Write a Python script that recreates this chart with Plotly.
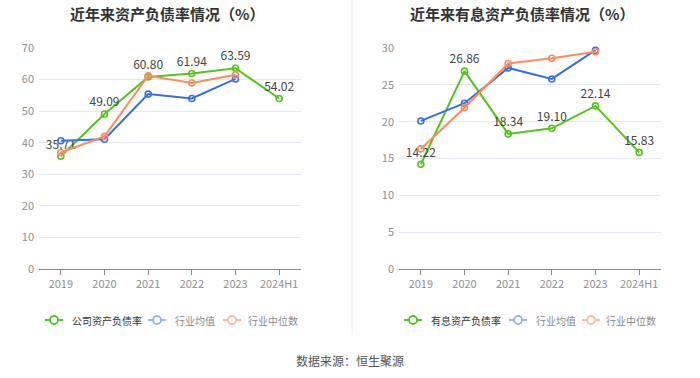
import plotly.graph_objects as go

years = ["2019", "2020", "2021", "2022", "2023", "2024H1"]
ind_years = ["2019", "2020", "2021", "2022", "2023"]

# Left chart: 资产负债率
company_debt = [35.71, 49.09, 60.80, 61.94, 63.59, 54.02]
industry_avg_debt = [40.6, 41.1, 55.4, 54.0, 60.2]
industry_med_debt = [36.9, 42.0, 61.2, 58.9, 61.5]

# Right chart: 有息资产负债率
company_int = [14.22, 26.86, 18.34, 19.10, 22.14, 15.83]
industry_avg_int = [20.1, 22.5, 27.3, 25.8, 29.7]
industry_med_int = [16.3, 21.9, 27.9, 28.6, 29.5]

left_title = "近年来资产负债率情况（%）"
right_title = "近年来有息资产负债率情况（%）"
left_legend = ["公司资产负债率", "行业均值", "行业中位数"]
right_legend = ["有息资产负债率", "行业均值", "行业中位数"]
source_text = "数据来源：恒生聚源"

GREEN = "#52c41a"
BLUE = "#3370e8"
ORANGE = "#ff8a5b"
FADED = ["#52c41a", "#94b4f2", "#ffbba0"]
LEG_TEXT = ["#333333", "#8a8a8a", "#8a8a8a"]
FONT = "Noto Sans CJK SC"
W, H = 700, 378

fig = go.Figure()


def add_panel(xa, ya, comp, avg, med, comp_name):
    fig.add_trace(go.Scatter(
        x=years, y=comp, xaxis=xa, yaxis=ya, showlegend=False,
        name=comp_name, mode="lines+markers+text",
        line=dict(color=GREEN, width=2),
        marker=dict(symbol="circle-open", size=6, color=GREEN, line=dict(width=1.6)),
        text=[f"{v:.2f}" for v in comp], textposition="top center",
        textfont=dict(family=FONT, size=12, color="#444"),
        cliponaxis=False, hoverinfo="skip",
    ))
    for vals, col in ((avg, BLUE), (med, ORANGE)):
        fig.add_trace(go.Scatter(
            x=ind_years, y=vals, xaxis=xa, yaxis=ya, showlegend=False,
            mode="lines+markers",
            line=dict(color=col, width=2),
            marker=dict(symbol="circle-open", size=6, color=col, line=dict(width=1.6)),
            cliponaxis=False, hoverinfo="skip",
        ))


add_panel("x", "y", company_debt, industry_avg_debt, industry_med_debt, left_legend[0])
add_panel("x2", "y2", company_int, industry_avg_int, industry_med_int, right_legend[0])

ydom = [1 - 269 / H, 1 - 48 / H]
xaxis_common = dict(
    type="category", categoryorder="array", categoryarray=years, automargin=False,
    range=[-0.5, 5.5], showgrid=False, showline=True, linecolor="#888", linewidth=1,
    ticks="outside", ticklen=5, tickcolor="#888",
    tickfont=dict(family=FONT, size=11, color="#909090"), fixedrange=True,
)
yaxis_common = dict(
    showgrid=True, gridcolor="#e3e8f2", gridwidth=1, zeroline=False, showline=False,
    automargin=False, ticklabelstandoff=4,
    tickfont=dict(family=FONT, size=11, color="#909090"), ticks="", fixedrange=True,
)

annotations = [
    dict(text=f"<b>{left_title}</b>", x=167 / W, y=1 - 13 / H, xref="paper", yref="paper",
         showarrow=False, font=dict(family=FONT, size=15, color="#333"), xanchor="center", yanchor="middle"),
    dict(text=f"<b>{right_title}</b>", x=522 / W, y=1 - 13 / H, xref="paper", yref="paper",
         showarrow=False, font=dict(family=FONT, size=15, color="#333"), xanchor="center", yanchor="middle"),
    dict(text=source_text, x=350 / W, y=1 - 360 / H, xref="paper", yref="paper",
         showarrow=False, font=dict(family=FONT, size=12, color="#555"), xanchor="center", yanchor="middle"),
]
shapes = [dict(type="line", xref="paper", yref="paper", x0=352 / W, x1=352 / W,
               y0=1 - 334 / H, y1=1, line=dict(color="#eeeeee", width=1))]

# hand-placed legends (icon centre x, text start x)
LEG_Y = 320
legend_specs = [
    (left_legend, [(54, 70), (157, 173), (232, 246)]),
    (right_legend, [(413, 429), (518, 534), (591, 604)]),
]
for names, pos in legend_specs:
    for i, (name, (cx, tx)) in enumerate(zip(names, pos)):
        col = FADED[i]
        shapes.append(dict(type="line", xref="paper", yref="paper",
                           x0=(cx - 9) / W, x1=(cx + 9) / W, y0=1 - LEG_Y / H, y1=1 - LEG_Y / H,
                           line=dict(color=col, width=2)))
        shapes.append(dict(type="circle", xref="paper", yref="paper",
                           x0=(cx - 4) / W, x1=(cx + 4) / W, y0=1 - (LEG_Y + 4) / H, y1=1 - (LEG_Y - 4) / H,
                           fillcolor="white", line=dict(color=col, width=1.8)))
        annotations.append(dict(text=name, x=tx / W, y=1 - LEG_Y / H, xref="paper", yref="paper",
                                showarrow=False, xanchor="left", yanchor="middle",
                                font=dict(family=FONT, size=10, color=LEG_TEXT[i])))

fig.update_layout(
    width=W, height=H,
    margin=dict(l=0, r=0, t=0, b=0, autoexpand=False),
    paper_bgcolor="white", plot_bgcolor="white",
    font=dict(family=FONT),
    showlegend=False,
    hovermode=False,
    xaxis=dict(domain=[39 / W, 301 / W], anchor="y", **xaxis_common),
    yaxis=dict(domain=ydom, anchor="x", range=[0, 70], dtick=10, **yaxis_common),
    xaxis2=dict(domain=[399 / W, 661 / W], anchor="y2", **xaxis_common),
    yaxis2=dict(domain=ydom, anchor="x2", range=[0, 30], dtick=5, **yaxis_common),
    annotations=annotations,
    shapes=shapes,
)

fig.write_html("out.html", config={"displayModeBar": False, "staticPlot": True},
               post_script="document.body.style.margin='0';document.body.style.overflow='hidden';")
